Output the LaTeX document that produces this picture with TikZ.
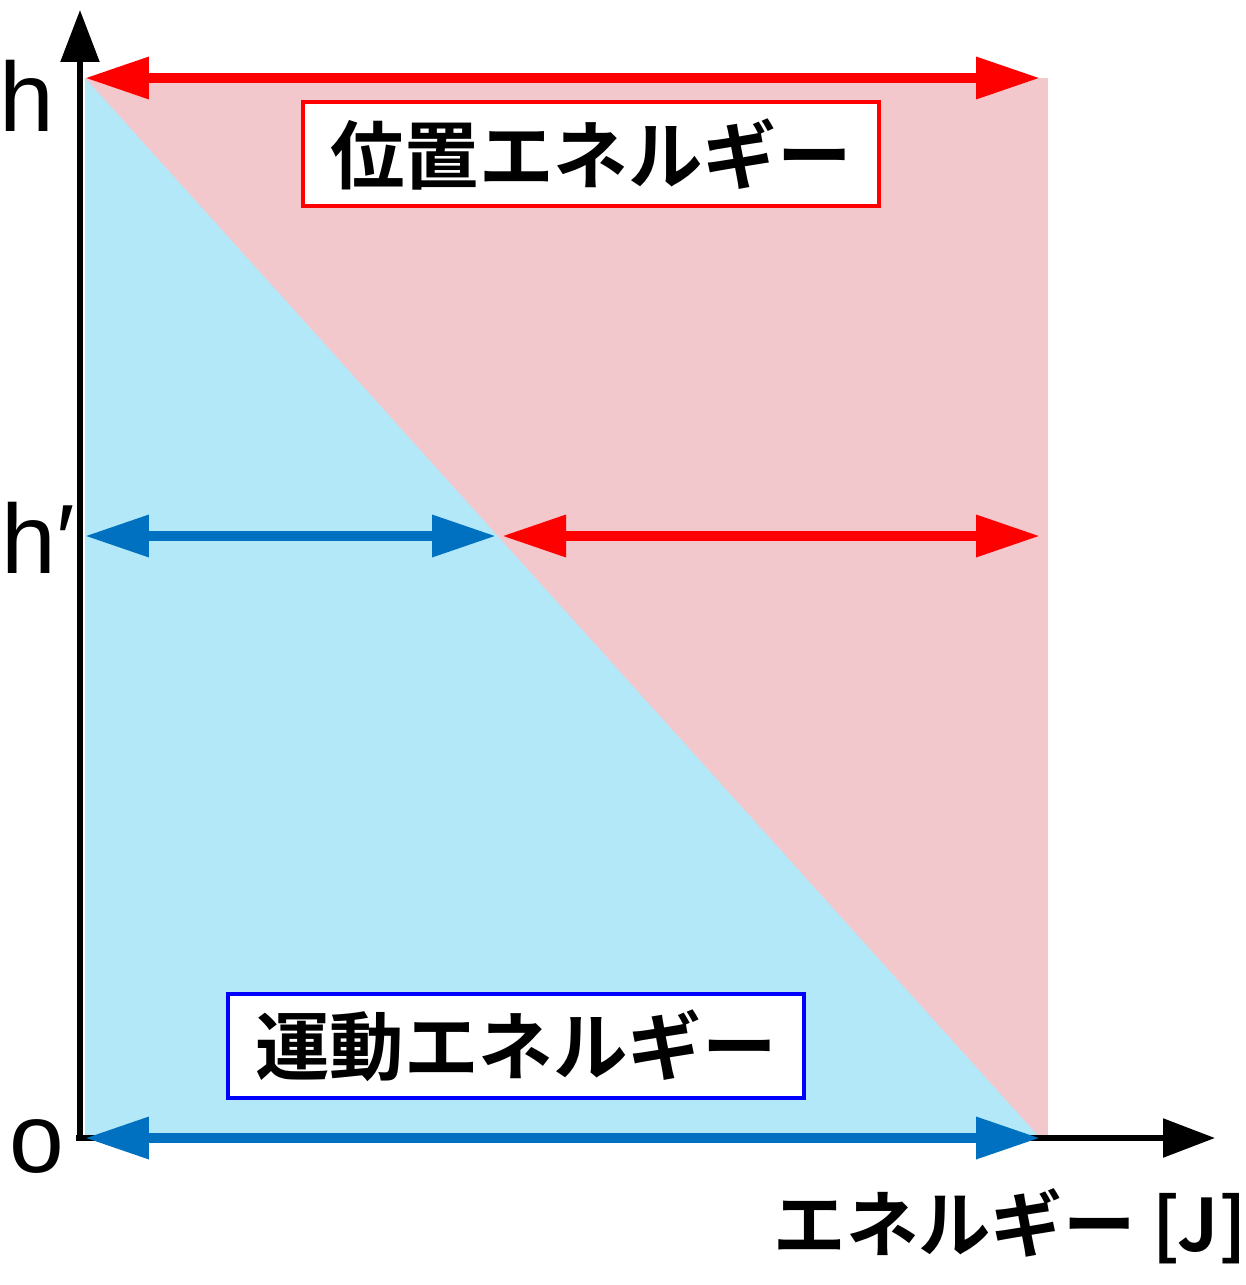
\documentclass[tikz,border=0pt]{standalone}
\usepackage{fontspec}
\setmainfont{Liberation Sans}
\newfontfamily\jp{Noto Sans CJK JP}[BoldFont={Noto Sans CJK JP Bold}]
\usetikzlibrary{arrows.meta}
\definecolor{kblue}{HTML}{B3E8F8}
\definecolor{kpink}{HTML}{F2C8CD}
\definecolor{abl}{HTML}{0070C0}
\definecolor{ard}{HTML}{FF0000}
\tikzset{
 dbl/.style={line width=14pt,{Triangle[length=3.2cm,width=2cm]}-{Triangle[length=3.2cm,width=2cm]}},
 ax/.style={line width=8pt,-{Triangle[length=2.6cm,width=1.9cm]}},
 lbl/.style={inner sep=0pt,font=\fontsize{140}{140}\selectfont},
 jbox/.style={draw,line width=5pt,fill=white,minimum width=28.8cm,minimum height=5.2cm,font=\jp\bfseries\fontsize{106}{106}\selectfont}
}
\begin{document}
\begin{tikzpicture}[x=0.05cm,y=-0.05cm]
\useasboundingbox (0,0) rectangle (1246,1285);
\coordinate (tl) at (85,78);
\coordinate (tr) at (1040,78);
\coordinate (bl) at (85,1138);
\coordinate (br) at (1040,1138);
\coordinate (ml) at (85,536);
\coordinate (mm) at (496,536);
\coordinate (mr) at (1040,536);
\fill[kpink] (85,78) rectangle (1048,1138);
\fill[kblue] (tl) -- (bl) -- (br) -- cycle;
\draw[ax] (80,1140) -- (80,10);
\draw[ax] (76,1138) -- (1215,1138);
\draw[dbl,ard] (tl) -- (tr);
\draw[dbl,abl] (ml) -- (mm);
\draw[dbl,ard] (mm) ++(6,0) -- (mr);
\draw[dbl,abl] (bl) -- (br);
\node[jbox,draw=ard] (pe) at (591,154) {位置エネルギー};
\node[jbox,draw=blue] (ke) at (516,1046) {運動エネルギー};
\node[lbl] (h) at (27,96) {h};
\node[lbl] (hp) at (38,538) {h′};
\node[lbl] (o) at (37,1146) {o};
\node[inner sep=0pt,font=\jp\bfseries\fontsize{103}{103}\selectfont] (xl) at (1010,1226) {エネルギー [J]};
\end{tikzpicture}
\end{document}
